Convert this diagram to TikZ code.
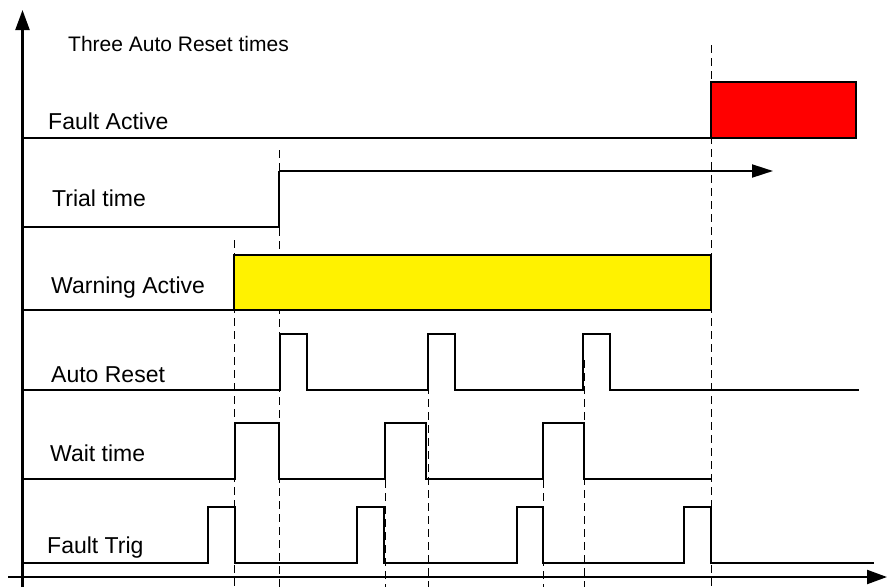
\documentclass[tikz,border=0pt]{standalone}
\usepackage{fontspec}
\setmainfont{Liberation Sans}
\usetikzlibrary{arrows.meta}
\begin{document}
\begin{tikzpicture}[x=1pt,y=-1pt,
  sig/.style={line width=2pt,line join=miter},
  axis/.style={line width=2.2pt,-{Triangle[length=20pt,width=14pt]}},
  guide/.style={line width=1pt,dash pattern=on 8pt off 5pt},
  lbl/.style={anchor=base west,inner sep=0pt,font=\fontsize{23}{26}\selectfont},
  ttl/.style={anchor=base west,inner sep=0pt,font=\fontsize{21}{24}\selectfont}]
\useasboundingbox (0,0) rectangle (887,587);
% guides
\draw[guide] (234,240) -- (234,587);
\draw[guide] (279,150) -- (279,587);
\draw[guide] (385,480) -- (385,587);
\draw[guide] (428,360) -- (428,587);
\draw[guide] (543,480) -- (543,587);
\draw[guide] (584,360) -- (584,587);
\draw[guide] (711,45) -- (711,587);
% fault active
\draw[sig] (22,138) -- (711,138);
\draw[line width=1.5pt,fill=red] (711,82) rectangle (856,138);
% trial time
\draw[sig] (22,227) -- (279,227) -- (279,171);
\draw[sig,-{Triangle[length=21pt,width=13pt]}] (279,171) -- (773,171);
% warning active
\draw[sig] (22,310) -- (234,310);
\draw[sig,fill=yellow] (234,310) -- (234,255) -- (711,255) -- (711,310) -- cycle;
% auto reset
\draw[sig] (22,390) -- (280,390) |- (307,334) |- (428,390) |- (455,334) |- (583,390) |- (610,334) |- (859,390);
% wait time
\draw[sig] (22,479) -- (235,479) |- (279,423) |- (385,479) |- (426,423) |- (543,479) |- (584,423) |- (711,479);
% fault trig
\draw[sig] (22,563) -- (208,563) |- (235,507) |- (357,563) |- (384,507) |- (517,563) |- (543,507) |- (684,563) |- (711,507) |- (874,563);
% axes
\draw[axis] (22.5,587) -- (22.5,10);
\draw[axis] (8,577) -- (887,577);
% labels
\node[ttl] (t0) at (68,51) {Three Auto Reset times};
\node[lbl] (t1) at (48,129) {Fault Active};
\node[lbl] (t2) at (52,206) {Trial time};
\node[lbl] (t3) at (51,293) {Warning Active};
\node[lbl] (t4) at (51,382) {Auto Reset};
\node[lbl] (t5) at (50,461) {Wait time};
\node[lbl] (t6) at (47,553) {Fault Trig};
\end{tikzpicture}
\end{document}
